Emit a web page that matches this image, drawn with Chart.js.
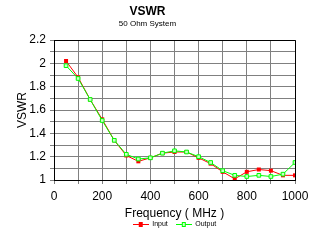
<!DOCTYPE html>
<html>
<head>
<meta charset="utf-8">
<script src="https://cdn.jsdelivr.net/npm/chart.js@4.4.1/dist/chart.umd.min.js"></script>
<style>
  html, body { margin: 0; padding: 0; background: #fff; }
  #wrap { width: 312px; height: 240px; }
</style>
</head>
<body>
<div id="wrap"><canvas id="chart" width="312" height="240"></canvas></div>
<script>
// values
const freqs = [50, 100, 150, 200, 250, 300, 350, 400, 450, 500, 550, 600, 650, 700, 750, 800, 850, 900, 950, 1000];
const inputVswr = [2.02, 1.88, 1.69, 1.52, 1.34, 1.21, 1.16, 1.19, 1.23, 1.24, 1.24, 1.19, 1.14, 1.07, 1.01, 1.07, 1.09, 1.08, 1.04, 1.04];
const outputVswr = [1.98, 1.87, 1.69, 1.51, 1.34, 1.22, 1.18, 1.19, 1.23, 1.25, 1.24, 1.20, 1.15, 1.08, 1.04, 1.03, 1.04, 1.03, 1.05, 1.15];
const seriesNames = ['Input', 'Output'];
const xLabelStep = 200;

Chart.defaults.font.family = "'Liberation Sans', Arial, sans-serif";
Chart.defaults.color = '#000';

function toPoints(ys) {
    return freqs.map((f, i) => ({x: f, y: ys[i]}));
}

// small legend swatch: line with marker in the middle
function legendIcon(line, border, fill) {
    const c = document.createElement('canvas');
    c.width = 16; c.height = 7;
    const g = c.getContext('2d');
    g.strokeStyle = line;
    g.lineWidth = 1;
    g.beginPath(); g.moveTo(0, 3.5); g.lineTo(16, 3.5); g.stroke();
    g.fillStyle = border;
    g.fillRect(6, 1, 4, 5);
    g.fillStyle = fill;
    g.fillRect(7, 2, 2, 3);
    return c;
}
const icons = [legendIcon('#ff0000', '#ff0000', '#ff0000'), legendIcon('#00ff00', '#00ff00', '#c8ffc8')];

function align(px) { return Math.round(px + 0.5) - 0.5; }

const frame = {
    id: 'frame',
    beforeDatasetsDraw(chart) {
        const a = chart.chartArea, c = chart.ctx;
        const top = align(a.top), right = align(a.right);
        c.save();
        c.strokeStyle = '#000';
        c.lineWidth = 1;
        c.beginPath();
        c.moveTo(align(a.left), top); c.lineTo(right, top);
        c.lineTo(right, align(a.bottom));
        c.stroke();
        c.restore();
    }
};

new Chart(document.getElementById('chart'), {
    type: 'line',
    data: {
        datasets: [{
            label: seriesNames[0],
            data: toPoints(inputVswr),
            borderColor: '#ff0000',
            backgroundColor: '#ff0000',
            borderWidth: 1,
            pointStyle: 'rect',
            pointRadius: 2.83,
            pointBorderWidth: 0,
            tension: 0,
            order: 1
        }, {
            label: seriesNames[1],
            data: toPoints(outputVswr),
            borderColor: '#00ff00',
            backgroundColor: '#c8ffc8',
            pointBorderColor: '#00ff00',
            borderWidth: 1,
            pointStyle: 'rect',
            pointRadius: 2.6,
            pointBorderWidth: 1,
            tension: 0,
            order: 0
        }]
    },
    options: {
        responsive: false,
        animation: false,
        devicePixelRatio: 1,
        layout: {padding: {left: 0, right: 17, top: 0, bottom: 2}},
        plugins: {
            title: {
                display: true, text: 'VSWR',
                font: {size: 12, weight: 'bold'},
                padding: {top: 4, bottom: 1}
            },
            subtitle: {
                display: true, text: '50 Ohm System',
                font: {size: 8},
                padding: {top: 0, bottom: 11}
            },
            legend: {
                position: 'bottom',
                fullSize: false,
                labels: {
                    usePointStyle: true,
                    pointStyleWidth: 16,
                    padding: 8,
                    font: {size: 7},
                    generateLabels(chart) {
                        return chart.data.datasets.map((ds, i) => ({
                            text: ds.label, pointStyle: icons[i], datasetIndex: i,
                            fillStyle: ds.borderColor, strokeStyle: ds.borderColor,
                            lineWidth: 0, hidden: false, fontColor: '#000'
                        }));
                    }
                }
            },
            tooltip: {enabled: false}
        },
        scales: {
            x: {
                type: 'linear', min: 0, max: 1000,
                afterFit(s) { s.height = 33; s.paddingLeft = 0; s.paddingRight = 0; },
                ticks: {
                    stepSize: 100, autoSkip: false, maxRotation: 0, padding: 5,
                    font: {size: 12},
                    callback: v => (v % xLabelStep === 0 ? String(v) : '')
                },
                grid: {color: '#808080', tickLength: 4, tickColor: '#808080'},
                border: {color: '#000', width: 1},
                title: {display: true, text: 'Frequency ( MHz )', font: {size: 12}, padding: {top: 0, bottom: -8}}
            },
            y: {
                min: 1, max: 2.2,
                afterFit(s) { s.width = 54; s.paddingTop = 0; s.paddingBottom = 0; },
                ticks: {
                    stepSize: 0.1, autoSkip: false, padding: 4,
                    font: {size: 12},
                    callback: v => {
                        const r = Math.round(v * 10);
                        return r % 2 === 0 ? String(r / 10) : '';
                    }
                },
                grid: {color: '#808080', tickLength: 4, tickColor: '#808080'},
                border: {color: '#000', width: 1},
                title: {display: true, text: 'VSWR', font: {size: 12}, padding: {top: 15, bottom: 0}}
            }
        }
    },
    plugins: [frame]
});
</script>
</body>
</html>
